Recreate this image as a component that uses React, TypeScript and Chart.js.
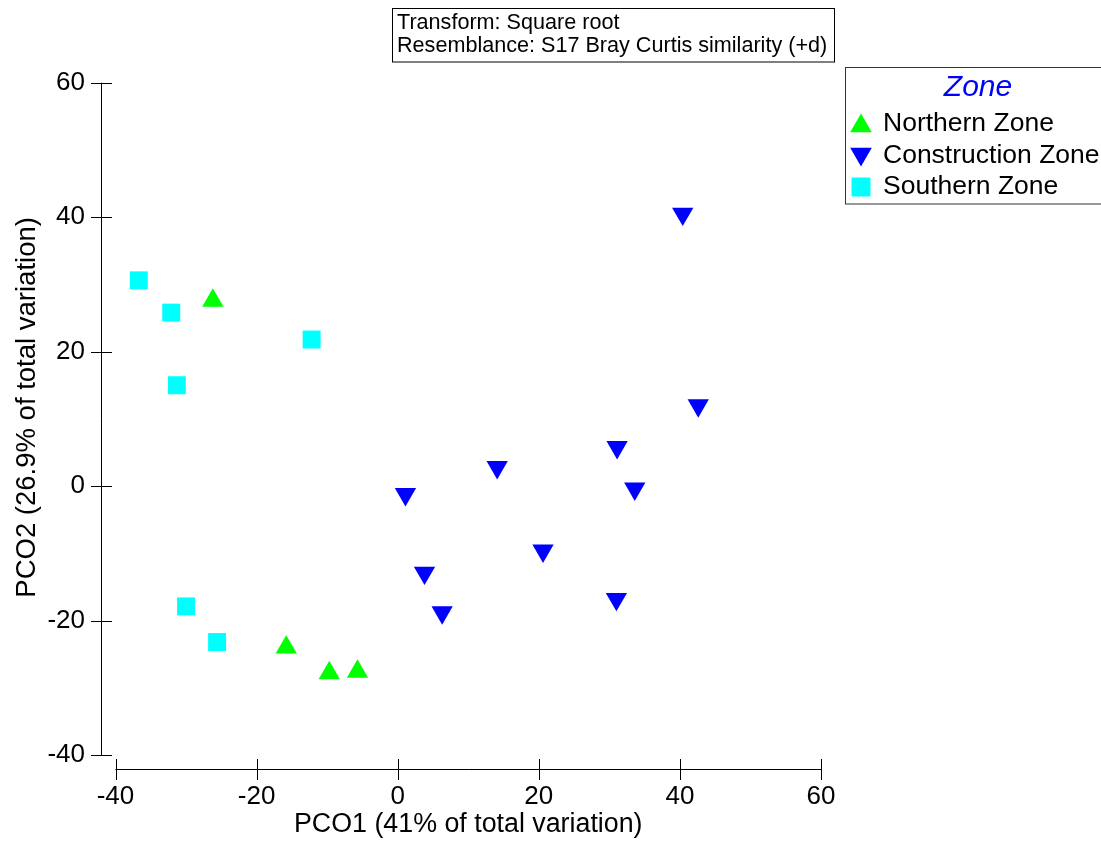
import React, { useEffect, useRef } from 'react';
import { Chart, registerables } from 'chart.js';
import { drawPoint } from 'chart.js/helpers';

Chart.register(...registerables);

const FONT = "'Liberation Sans', Arial, Helvetica, sans-serif";

// ---- data ----
const seriesLabels = ['Northern Zone', 'Construction Zone', 'Southern Zone'];
const seriesColors = ['#00FF00', '#0000FF', '#00FFFF'];

const northernX = [-26.2, -15.8, -9.7, -5.7];
const northernY = [27.6, -24.0, -27.8, -27.6];

const constructionX = [1.1, 14.1, 31.1, 33.6, 20.6, 3.8, 6.3, 31.0, 40.4, 42.6];
const constructionY = [-1.2, 2.8, 5.8, -0.4, -9.6, -12.9, -18.8, -16.8, 40.5, 12.0];

const southernX = [-36.7, -32.1, -12.2, -31.3, -30.0, -25.6];
const southernY = [30.6, 25.8, 21.8, 15.0, -17.9, -23.2];

const xTicks = [-40, -20, 0, 20, 40, 60];
const yTicks = [-40, -20, 0, 20, 40, 60];

const xTitle = 'PCO1 (41% of total variation)';
const yTitle = 'PCO2 (26.9% of total variation)';
const noteLines = ['Transform: Square root', 'Resemblance: S17 Bray Curtis similarity (+d)'];
const legendTitle = 'Zone';

const toPoints = (xs: number[], ys: number[]) => xs.map((x, i) => ({ x, y: ys[i] }));

const decorPlugin = {
  id: 'pcoDecor',
  afterDraw(chart: any) {
    const { ctx, chartArea, scales } = chart;
    const xs = scales.x;
    const ys = scales.y;
    ctx.save();

    // detached axes with crossing tick marks
    ctx.strokeStyle = '#000';
    ctx.lineWidth = 1;
    const axX = Math.round(chartArea.left - 14.5) + 0.5;
    const axY = Math.round(chartArea.bottom + 14) + 0.5;
    ctx.beginPath();
    ctx.moveTo(axX, ys.getPixelForValue(ys.max));
    ctx.lineTo(axX, ys.getPixelForValue(ys.min));
    ys.ticks.forEach((t: any) => {
      const py = Math.round(ys.getPixelForValue(t.value)) + 0.5;
      ctx.moveTo(axX - 10.5, py);
      ctx.lineTo(axX + 10.5, py);
    });
    ctx.moveTo(xs.getPixelForValue(xs.min), axY);
    ctx.lineTo(xs.getPixelForValue(xs.max), axY);
    xs.ticks.forEach((t: any) => {
      const px = Math.round(xs.getPixelForValue(t.value)) + 0.5;
      ctx.moveTo(px, axY - 10.5);
      ctx.lineTo(px, axY + 10.5);
    });
    ctx.stroke();

    // note box
    ctx.strokeStyle = '#000';
    ctx.strokeRect(392.5, 8.5, 442, 53.5);
    ctx.fillStyle = '#000';
    ctx.font = `21.6px ${FONT}`;
    ctx.textAlign = 'left';
    ctx.textBaseline = 'alphabetic';
    ctx.fillText(noteLines[0], 397, 28.5);
    ctx.fillText(noteLines[1], 397, 52);

    // legend
    ctx.strokeStyle = '#333';
    ctx.strokeRect(845.5, 67.5, 300, 136.5);
    ctx.fillStyle = '#0000FF';
    ctx.font = `italic 30px ${FONT}`;
    ctx.textAlign = 'center';
    ctx.textBaseline = 'middle';
    ctx.fillText(legendTitle, 978, 88);

    const textY = [123.5, 155.5, 187];
    const symY = [126, 154, 187];
    chart.data.datasets.forEach((ds: any, i: number) => {
      ctx.fillStyle = ds.pointBackgroundColor;
      drawPoint(ctx, {
        pointStyle: ds.pointStyle,
        rotation: ds.pointRotation || 0,
        radius: ds.pointStyle === 'rect' ? 13.4 : 12.5,
        borderWidth: 0,
      } as any, 861, symY[i]);
      ctx.fillStyle = '#000';
      ctx.font = `26.5px ${FONT}`;
      ctx.textAlign = 'left';
      ctx.textBaseline = 'middle';
      ctx.fillText(ds.label, 883, textY[i]);
    });

    ctx.restore();
  },
};

export default function App() {
  const ref = useRef<HTMLCanvasElement>(null);

  useEffect(() => {
    const canvas = ref.current;
    if (!canvas) return;
    const makeDs = (i: number, xs: number[], ys: number[], style: string, rot: number, r: number) => ({
      label: seriesLabels[i],
      data: toPoints(xs, ys),
      pointStyle: style,
      pointRotation: rot,
      pointRadius: r,
      pointHoverRadius: r,
      pointBackgroundColor: seriesColors[i],
      pointBorderColor: seriesColors[i],
      pointBorderWidth: 0,
      pointHoverBorderWidth: 0,
      backgroundColor: seriesColors[i],
      borderColor: seriesColors[i],
      showLine: false,
      clip: false as any,
    });

    const chart = new Chart(canvas, {
      type: 'scatter',
      data: {
        datasets: [
          makeDs(0, northernX, northernY, 'triangle', 0, 12.3),
          makeDs(1, constructionX, constructionY, 'triangle', 180, 12.3),
          makeDs(2, southernX, southernY, 'rect', 0, 12.7),
        ] as any,
      },
      options: {
        responsive: false,
        animation: false,
        devicePixelRatio: 1,
        events: [],
        layout: { padding: { left: 0, top: 82.7, right: 280, bottom: 0 } },
        plugins: {
          legend: { display: false },
          tooltip: { enabled: false },
        },
        scales: {
          x: {
            type: 'linear',
            position: 'bottom',
            min: -40,
            max: 60,
            grid: { display: false, drawTicks: false },
            border: { display: false },
            afterBuildTicks: (s: any) => {
              s.ticks = xTicks.map((v) => ({ value: v }));
            },
            afterFit: (s: any) => {
              s.height = 86;
            },
            ticks: {
              padding: 26,
              color: '#000',
              font: { family: FONT, size: 26 },
              maxRotation: 0,
            },
            title: {
              display: true,
              text: xTitle,
              color: '#000',
              font: { family: FONT, size: 26.8 },
              padding: { top: 0, bottom: 0 },
            },
          },
          y: {
            type: 'linear',
            position: 'left',
            min: -40,
            max: 60,
            grid: { display: false, drawTicks: false },
            border: { display: false },
            afterBuildTicks: (s: any) => {
              s.ticks = yTicks.map((v) => ({ value: v }));
            },
            afterFit: (s: any) => {
              s.width = 115.5;
            },
            ticks: {
              padding: 30.5,
              color: '#000',
              font: { family: FONT, size: 26 },
            },
            title: {
              display: true,
              text: '   ' + yTitle,
              color: '#000',
              font: { family: FONT, size: 27.5 },
              padding: { top: 11, bottom: 0 },
            },
          },
        },
      } as any,
      plugins: [decorPlugin],
    });
    return () => chart.destroy();
  }, []);

  return (
    <div
      style={{
        position: 'fixed',
        left: 0,
        top: 0,
        width: 1101,
        height: 841,
        background: '#fff',
        overflow: 'hidden',
      }}
    >
      <canvas ref={ref} width={1101} height={841} style={{ display: 'block', width: 1101, height: 841 }} />
    </div>
  );
}
